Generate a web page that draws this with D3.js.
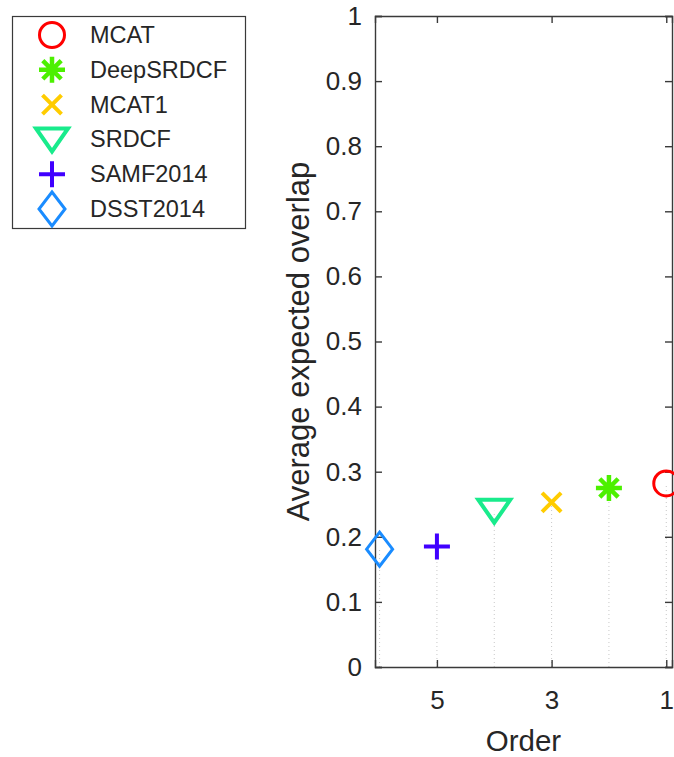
<!DOCTYPE html>
<html>
<head>
<meta charset="utf-8">
<script src="https://cdn.jsdelivr.net/npm/d3@7/dist/d3.min.js"></script>
<style>
  html, body { margin: 0; padding: 0; background: #fff; }
  svg { display: block; font-family: "Liberation Sans", Arial, Helvetica, sans-serif; }
</style>
</head>
<body>
<div id="chart"></div>
<script>
// Trackers, ranked by expected average overlap (order 1 = best)
const trackers = ['MCAT', 'DeepSRDCF', 'MCAT1', 'SRDCF', 'SAMF2014', 'DSST2014'];
const orders   = [1, 2, 3, 4, 5, 6];
const overlap  = [0.282, 0.275, 0.253, 0.240, 0.185, 0.181];
const markers  = ['circle', 'star', 'x', 'triangle', 'plus', 'diamond'];
const colors   = ['#ff0000', '#4cf000', '#ffcc00', '#19eb8c', '#4000ff', '#1a8cff'];

const yTicks = d3.range(0, 1.0001, 0.1);
const xTicks = [5, 3, 1];

const W = 674, H = 757;
const plot = { left: 375, right: 672, top: 16, bottom: 667 };

const svg = d3.select('#chart').append('svg')
  .attr('width', W).attr('height', H);

const x = d3.scaleLinear().domain([6.08, 0.9]).range([plot.left, plot.right]);
const y = d3.scaleLinear().domain([0, 1]).range([plot.bottom, plot.top]);

const axisColor = '#3a3a3a';
const textColor = '#262626';

// marker shapes (path strings centred on 0,0)
function markerPath(kind) {
  const p = d3.path();
  switch (kind) {
    case 'circle':
      p.arc(0, 0, 12.5, 0, 2 * Math.PI); break;
    case 'diamond':
      p.moveTo(0, -17); p.lineTo(13, 0); p.lineTo(0, 17); p.lineTo(-13, 0); p.closePath(); break;
    case 'triangle':
      p.moveTo(-16, -11); p.lineTo(16, -11); p.lineTo(0, 12); p.closePath(); break;
    case 'plus':
      p.moveTo(-13, 0); p.lineTo(13, 0); p.moveTo(0, -13); p.lineTo(0, 13); break;
    case 'x':
      p.moveTo(-9.5, -9.5); p.lineTo(9.5, 9.5); p.moveTo(9.5, -9.5); p.lineTo(-9.5, 9.5); break;
    case 'star':
      for (let k = 0; k < 4; k++) {
        const a = k * Math.PI / 4;
        p.moveTo(-13 * Math.sin(a), -13 * Math.cos(a));
        p.lineTo(13 * Math.sin(a), 13 * Math.cos(a));
      }
      break;
  }
  return p.toString();
}
const markerWidth = { circle: 3, diamond: 3, triangle: 4, plus: 4, x: 4, star: 4.5 };

function drawMarker(g, kind, color) {
  g.append('path')
    .attr('d', markerPath(kind))
    .attr('fill', 'none')
    .attr('stroke', color)
    .attr('stroke-width', markerWidth[kind])
    .attr('stroke-linejoin', 'miter');
}

// dotted stems from zero up to each value
svg.append('g').selectAll('line')
  .data(orders)
  .join('line')
  .attr('x1', d => x(d)).attr('x2', d => x(d))
  .attr('y1', y(0)).attr('y2', (d, i) => y(overlap[i]))
  .attr('stroke', '#c8c8c8')
  .attr('stroke-width', 1)
  .attr('stroke-dasharray', '1,3');

// axes: left + right for y, bottom + top for x, ticks inward
const tickLen = 7;
const gLeft = svg.append('g').attr('transform', `translate(${plot.left},0)`)
  .call(d3.axisLeft(y).tickValues(yTicks).tickSize(-tickLen).tickPadding(13)
    .tickFormat(d => d3.format('~g')(+d.toFixed(1))));
const gRight = svg.append('g').attr('transform', `translate(${plot.right},0)`)
  .call(d3.axisRight(y).tickValues(yTicks).tickSize(-tickLen).tickFormat(''));
const gBottom = svg.append('g').attr('transform', `translate(0,${plot.bottom})`)
  .call(d3.axisBottom(x).tickValues(xTicks).tickSize(-tickLen).tickPadding(24)
    .tickFormat(d3.format('d')));
const gTop = svg.append('g').attr('transform', `translate(0,${plot.top})`)
  .call(d3.axisTop(x).tickValues(xTicks).tickSize(-tickLen).tickFormat(''));

[gLeft, gRight, gBottom, gTop].forEach(g => {
  g.select('.domain').attr('stroke', axisColor).attr('stroke-width', 1.4);
  g.selectAll('.tick line').attr('stroke', axisColor).attr('stroke-width', 1.4);
  g.selectAll('.tick text').attr('fill', textColor).attr('font-size', 26)
    .attr('font-family', '"Liberation Sans", Arial, sans-serif');
});

// axis labels
svg.append('text')
  .attr('x', (plot.left + plot.right) / 2).attr('y', 751)
  .attr('text-anchor', 'middle')
  .attr('font-size', 29.5).attr('fill', textColor)
  .text('Order');

svg.append('text')
  .attr('transform', `translate(309,${(plot.top + plot.bottom) / 2}) rotate(-90)`)
  .attr('text-anchor', 'middle')
  .attr('font-size', 31).attr('fill', textColor)
  .text('Average expected overlap');

// markers
orders.forEach((o, i) => {
  const g = svg.append('g').attr('transform', `translate(${x(o)},${y(overlap[i])})`);
  drawMarker(g, markers[i], colors[i]);
});

// legend
const legend = svg.append('g');
legend.append('rect')
  .attr('x', 12.5).attr('y', 16.5).attr('width', 233).attr('height', 212)
  .attr('fill', '#fff').attr('stroke', axisColor).attr('stroke-width', 1.2);

trackers.forEach((name, i) => {
  const cy = 35 + i * 34.8;
  const g = legend.append('g').attr('transform', `translate(52,${cy})`);
  drawMarker(g, markers[i], colors[i]);
  legend.append('text')
    .attr('x', 90).attr('y', cy + 8)
    .attr('font-size', 23.5).attr('fill', textColor)
    .text(name);
});
</script>
</body>
</html>
